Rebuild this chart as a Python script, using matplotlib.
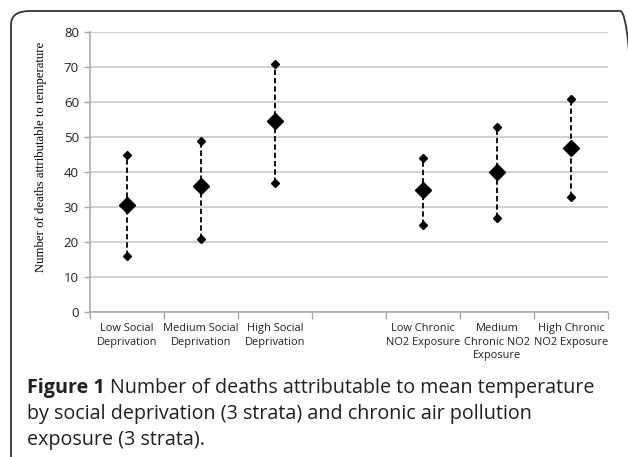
import matplotlib
matplotlib.use("Agg")
import matplotlib.pyplot as plt
import numpy as np
from matplotlib.patches import FancyBboxPatch

# strata (the empty slot is the gap between the two groups)
categories = ["Low Social\nDeprivation", "Medium Social\nDeprivation", "High Social\nDeprivation", "",
              "Low Chronic\nNO2 Exposure", "Medium\nChronic NO2\nExposure", "High Chronic\nNO2 Exposure"]
lower = [16, 21, 37, np.nan, 25, 27, 33]
estimate = [30.5, 36, 54.5, np.nan, 35, 40, 47]
upper = [45, 49, 71, np.nan, 44, 53, 61]

grid_color = "#c3c3c3"
axis_color = "#a6a6a6"

fig = plt.figure(figsize=(6.28, 4.57), dpi=100)

# rounded frame around figure + caption
frame = FancyBboxPatch((11 / 628, -0.2), 1.0, 1.2 - 11 / 457,
                       boxstyle="round,pad=0,rounding_size=0.03",
                       transform=fig.transFigure, fill=False,
                       edgecolor="#333333", linewidth=1.3)
fig.patches.append(frame)

ax = fig.add_axes([90 / 628, 1 - 312 / 457, 518 / 628, 280 / 457])
x = np.arange(len(categories))

for xi, lo, est, hi in zip(x, lower, estimate, upper):
    if np.isnan(est):
        continue
    ax.plot([xi, xi], [lo, hi], color="black", linestyle=(0, (3, 1.6)), linewidth=1.3, zorder=3)
    ax.plot([xi, xi], [lo, hi], linestyle="none", marker="D", markersize=4.5, color="black", zorder=4)
    ax.plot(xi, est, linestyle="none", marker="D", markersize=8.5, color="black", zorder=5)

ax.set_xlim(-0.5, len(categories) - 0.5)
ax.set_ylim(0, 80)
ax.set_yticks(np.arange(0, 81, 10))
ax.set_xticks(x)
ax.set_xticklabels(categories, fontfamily="Open Sans", fontsize=7.9, linespacing=1.3)
ax.set_xticks(np.arange(-0.5, len(categories), 1), minor=True)
ax.tick_params(axis="x", which="major", length=0, pad=8, colors="#222222")
ax.tick_params(axis="x", which="minor", length=5, color=axis_color, width=1)
ax.tick_params(axis="y", length=4.5, color=axis_color, width=1, labelsize=9.5, colors="#222222", pad=3.5)
for lab in ax.get_yticklabels():
    lab.set_fontfamily("Open Sans")
ax.grid(axis="y", color=grid_color, linewidth=1.1)
ax.set_axisbelow(True)
for side in ["top", "right"]:
    ax.spines[side].set_visible(False)
for side in ["left", "bottom"]:
    ax.spines[side].set_color(axis_color)
    ax.spines[side].set_linewidth(1.1)

ax.set_ylabel("Number of deaths attributable to temperature", fontfamily="Liberation Serif",
              fontsize=9.2)
ax.yaxis.set_label_coords(-(90 - 47) / 518, (312 - 157) / 280)

cap_font = "Open Sans"
cap_size = 14.2
cap_color = "#231f20"
fig_lab = fig.text(27 / 628, 1 - 388 / 457, "Figure 1 ", fontfamily=cap_font, fontweight="bold",
                   fontsize=cap_size, va="center", color=cap_color)
fig.canvas.draw()
bb = fig_lab.get_window_extent()
fig.text(bb.x1 / fig.bbox.width, 1 - 388 / 457, "Number of deaths attributable to mean temperature",
         fontfamily=cap_font, fontsize=cap_size, va="center", color=cap_color)
fig.text(27 / 628, 1 - 414 / 457, "by social deprivation (3 strata) and chronic air pollution",
         fontfamily=cap_font, fontsize=cap_size, va="center", color=cap_color)
fig.text(27 / 628, 1 - 440 / 457, "exposure (3 strata).",
         fontfamily=cap_font, fontsize=cap_size, va="center", color=cap_color)

fig.savefig("out.png", dpi=100)
